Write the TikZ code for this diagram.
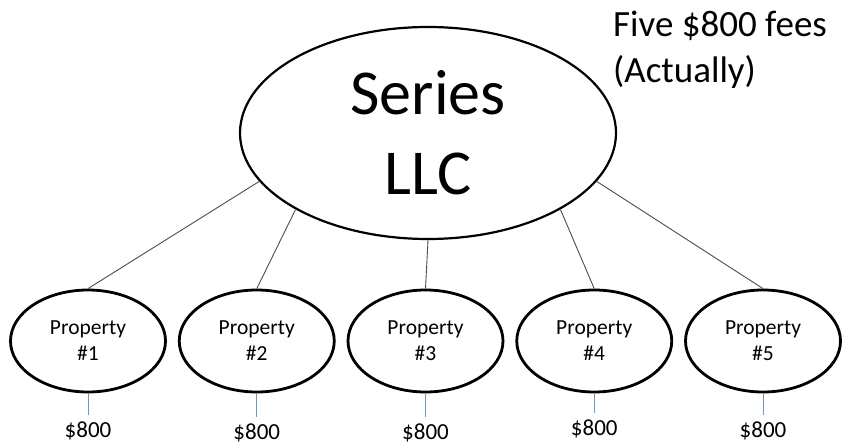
\documentclass[tikz,border=0pt]{standalone}
\usepackage{fontspec}
\setmainfont{Carlito}
\usepackage{tikz}
\usetikzlibrary{shapes, positioning}
\definecolor{feeblue}{RGB}{112,150,190}
\tikzset{
    llc/.style={
        ellipse,
        line width=2.2pt,
        draw=black,
        minimum width=376pt,
        minimum height=212pt,
        inner sep=0pt,
        align=center,
        font=\fontsize{64}{80}\selectfont,
    },
    property/.style={
        ellipse,
        line width=2.8pt,
        draw=black,
        minimum width=155pt,
        minimum height=102pt,
        inner sep=0pt,
        align=center,
        font=\fontsize{21.5}{26}\selectfont,
    },
    fee/.style={
        inner xsep=0pt,
        inner ysep=7pt,
        font=\fontsize{23}{28}\selectfont,
    },
    note/.style={
        inner sep=0pt,
        align=left,
        font=\fontsize{37}{46}\selectfont,
    },
    link/.style={
        line width=0.9pt,
        draw=black!70,
    },
    feelink/.style={
        line width=1pt,
        draw=feeblue,
    },
}
\begin{document}
\begin{tikzpicture}[x=1pt, y=-1pt, node distance=168.75pt, on grid]
      \useasboundingbox (0,0) rectangle (843,446);

      \node[llc] (series) at (428,133) {Series\\LLC};

      \node[note, anchor=base west] (fees) at (613,83) {Five \$800 fees\\(Actually)};

      \node[property] (p1) at (88,341) {Property\\\#1};
      \node[property, right=of p1] (p2) {Property\\\#2};
      \node[property, right=of p2] (p3) {Property\\\#3};
      \node[property, right=of p3] (p4) {Property\\\#4};
      \node[property, right=of p4] (p5) {Property\\\#5};

      \node[fee, below=90pt of p1] (f1) {\$800};
      \node[fee, below=92pt of p2] (f2) {\$800};
      \node[fee, below=92pt of p3] (f3) {\$800};
      \node[fee, below=88pt of p4] (f4) {\$800};
      \node[fee, below=90pt of p5] (f5) {\$800};

      \draw[link] (series.196) -- (p1.north);
      \draw[link] (series.210) -- (p2.north);
      \draw[link] (series.south) -- (p3.north);
      \draw[link] (series.330) -- (p4.north);
      \draw[link] (series.344) -- (p5.north);

      \draw[feelink] (p1.south) -- (f1.north);
      \draw[feelink] (p2.south) -- (f2.north);
      \draw[feelink] (p3.south) -- (f3.north);
      \draw[feelink] (p4.south) -- (f4.north);
      \draw[feelink] (p5.south) -- (f5.north);
    \end{tikzpicture}
\end{document}
